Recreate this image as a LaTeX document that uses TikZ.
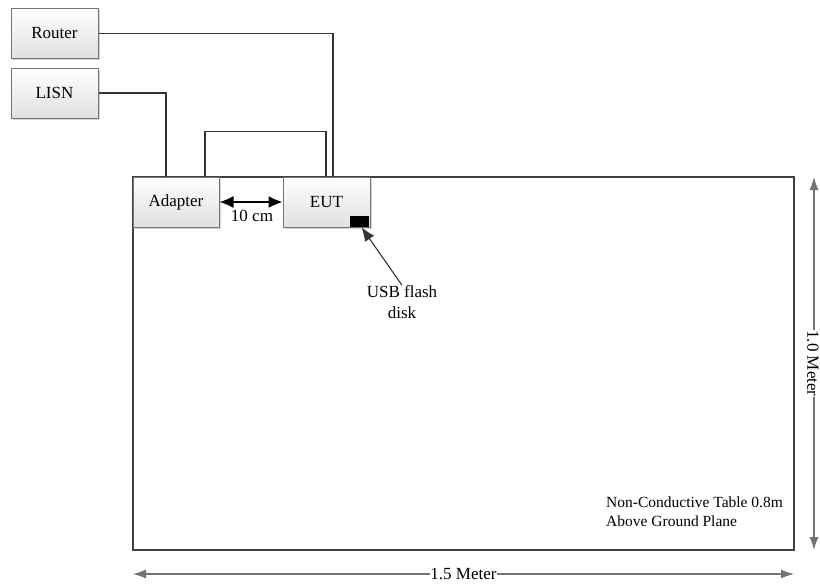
\documentclass[tikz,border=0pt]{standalone}
\usepackage{fontspec}
\setmainfont{Liberation Serif}
\usepackage{tikz}
\usetikzlibrary{arrows.meta,shadows}
\pgfdeclarelayer{edgelayer}
\pgfdeclarelayer{nodelayer}
\pgfsetlayers{edgelayer,main,nodelayer}
\tikzstyle{wire}=[draw=black!80, line width=1.1pt]
\tikzstyle{box}=[rectangle, draw=black!55, line width=1pt, top color=white, bottom color=black!12, drop shadow={shadow xshift=1.5pt, shadow yshift=-1.5pt, opacity=0.35}, minimum width=87pt, minimum height=50pt, font=\fontsize{17}{20}\selectfont]
\tikzstyle{label}=[font=\fontsize{17}{21}\selectfont, inner sep=0pt]
\tikzstyle{dim}=[draw=black!55, line width=1.2pt, {Latex[length=13pt,width=9pt]}-{Latex[length=13pt,width=9pt]}]
\tikzstyle{gap}=[draw=black, line width=1.3pt, {Latex[length=14pt,width=12pt]}-{Latex[length=14pt,width=12pt]}]

\begin{document}
\begin{tikzpicture}[x=1pt, y=-1pt]
			\useasboundingbox (0,0) rectangle (820,587);
			\begin{pgfonlayer}{nodelayer}
			\node [style=box] (router) at (54.5, 33.5) {Router};
			\node [style=box] (lisn) at (54.5, 93) {LISN};
			\node [style=box, minimum width=86pt] (adapter) at (176, 202) {Adapter};
			\node [style=box] (eut) at (326.5, 202) {EUT};
			\node [fill=black, minimum width=19pt, minimum height=11pt, inner sep=0pt] (flash) at (359.5, 221.5) {};
			\end{pgfonlayer}
			\node [style=label, align=center] (usb) at (402, 302) {USB flash\\disk};
			\node [style=label] (gaplabel) at (252, 216) {10 cm};
			\node [style=label, align=left, anchor=north west, font=\fontsize{15.5}{19}\selectfont] (note) at (606, 497) {Non-Conductive Table 0.8m\\Above Ground Plane};
			\node [inner sep=0pt] (c1) at (133, 177) {};
			\node [inner sep=0pt] (c2) at (794, 550) {};
			\begin{pgfonlayer}{edgelayer}
			\draw [draw=black!75, line width=2pt] (c1.center) rectangle (c2.center);
			\draw [style=wire] (router) -| ([xshift=6.5pt]eut.north);
			\draw [style=wire] (lisn) -| ([xshift=-10pt]adapter.north);
			\draw [style=wire] ([xshift=29pt]adapter.north) -- ++(0,-45) -| ([xshift=-0.5pt]eut.north);
			\draw [style=gap] (adapter.east) -- (eut.west);
			\draw [draw=black!80, line width=1.1pt, -{Latex[length=14pt,width=11pt]}] (usb.north) -- ([xshift=2pt]flash.south);
			\draw [style=dim] (c1.center |- 0,574) -- node [fill=white, inner sep=0.5pt, font=\fontsize{17}{20}\selectfont] {1.5 Meter} (c2.center |- 0,574);
			\draw [style=dim] (814,0 |- c1.center) -- node [fill=white, inner sep=0.5pt, rotate=-90, font=\fontsize{17}{20}\selectfont, yshift=-1pt] {1.0 Meter} (814,0 |- c2.center);
			\end{pgfonlayer}
			\end{tikzpicture}
\end{document}
